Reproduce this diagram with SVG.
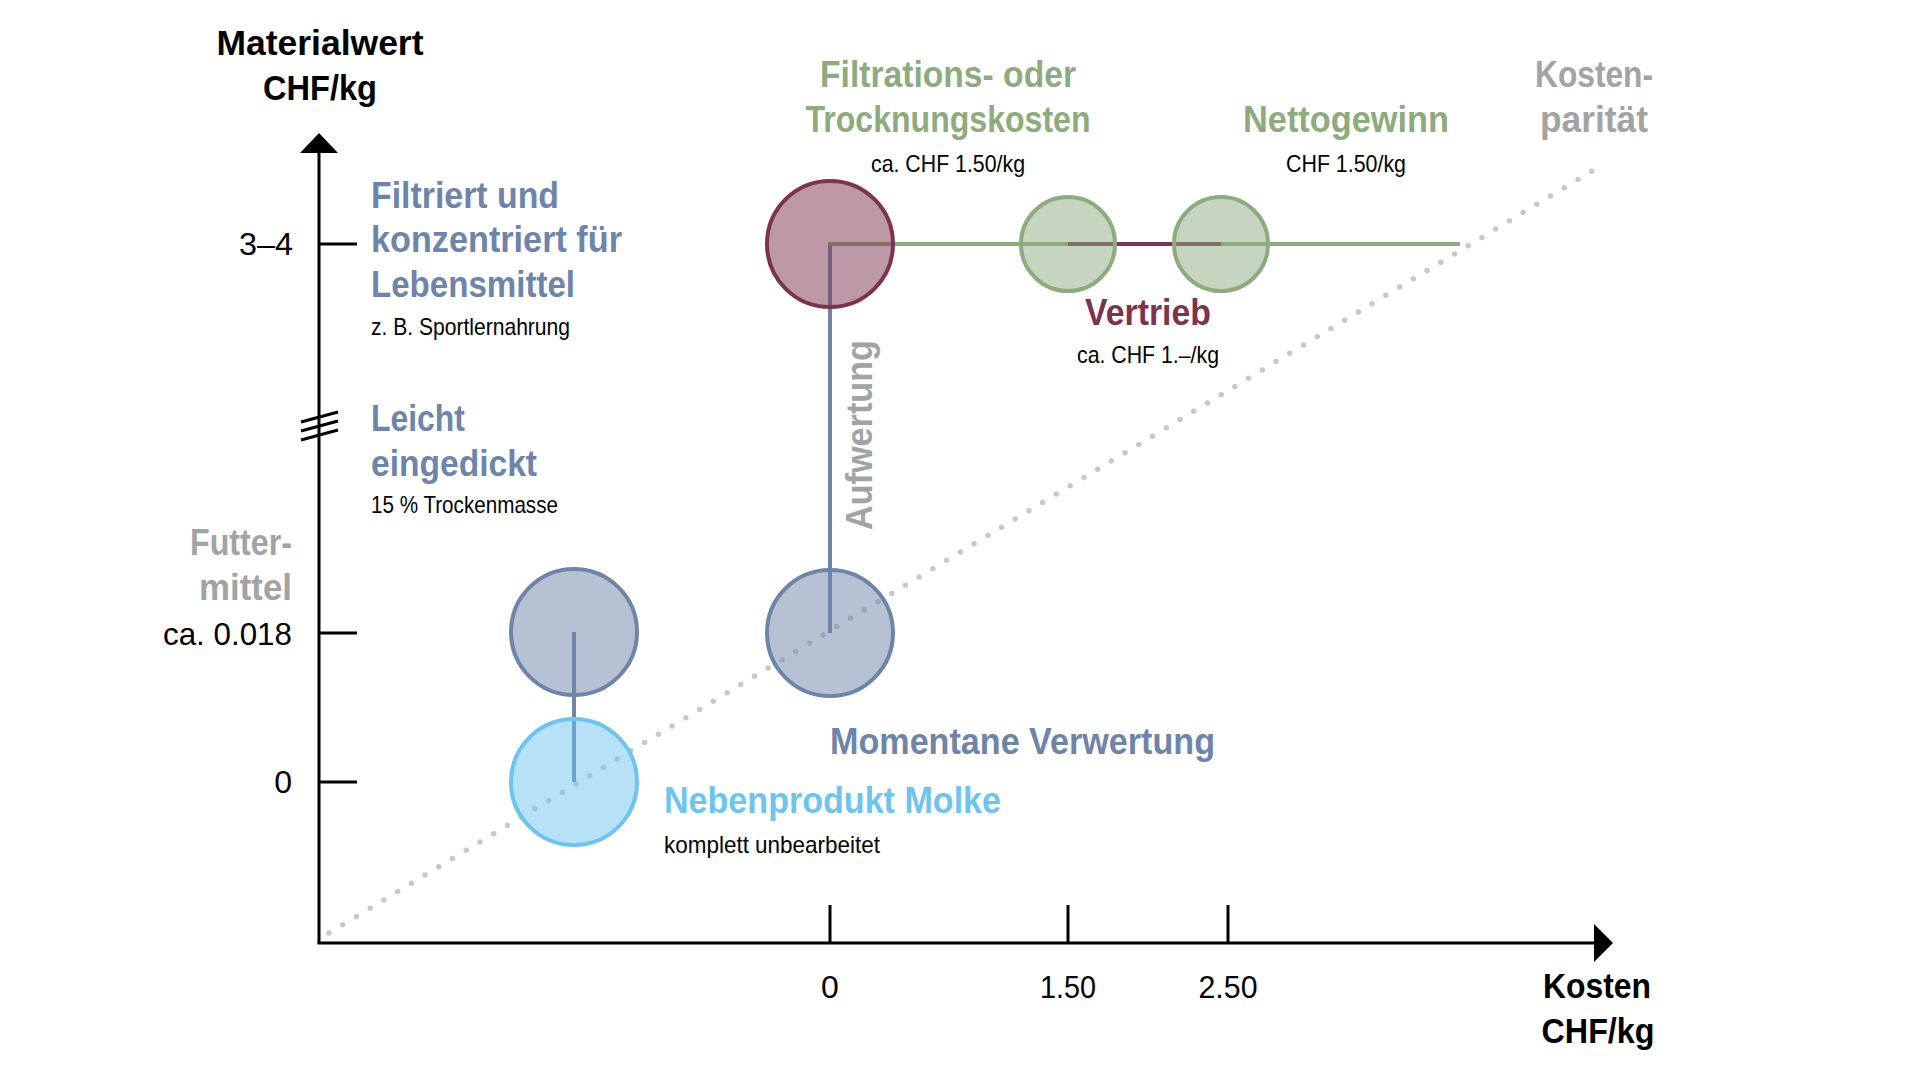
<svg xmlns="http://www.w3.org/2000/svg" width="1920" height="1080" viewBox="0 0 1920 1080">
<style>
text{font-family:"Liberation Sans",Arial,sans-serif;}
.h{font-weight:bold;font-size:36px;}
.ax{font-weight:bold;font-size:35px;fill:#000;}
.num{font-size:32px;fill:#000;}
.sm{font-size:24px;fill:#000;}
.bl{fill:#6f84a9;}
.gr{fill:#8dab7f;}
.rd{fill:#7c3350;}
.gy{fill:#a3a3a3;}
.lb{fill:#6ec4ef;}
.axis{stroke:#000;stroke-width:3;fill:none;}
.c{stroke-width:4;fill-opacity:0.5;}
</style>
<rect width="1920" height="1080" fill="#fff"/>

<g id="axes">
  <line class="axis" x1="319" y1="152" x2="319" y2="943"/>
  <line class="axis" x1="317.5" y1="943" x2="1596" y2="943"/>
  <polygon points="319,133 300,153 338,153" fill="#000"/>
  <polygon points="1613,943 1594,924 1594,962" fill="#000"/>
  <line class="axis" x1="319" y1="244" x2="357" y2="244"/>
  <line class="axis" x1="319" y1="633" x2="357" y2="633"/>
  <line class="axis" x1="319" y1="782" x2="357" y2="782"/>
  <line class="axis" x1="830" y1="905" x2="830" y2="943"/>
  <line class="axis" x1="1068" y1="905" x2="1068" y2="943"/>
  <line class="axis" x1="1228" y1="905" x2="1228" y2="943"/>
  <g stroke="#000" stroke-width="3">
    <line x1="301" y1="422" x2="338" y2="412"/>
    <line x1="301" y1="431" x2="338" y2="421"/>
    <line x1="301" y1="440" x2="338" y2="430"/>
  </g>
  <text class="ax" x="320" y="55" text-anchor="middle" textLength="207" lengthAdjust="spacingAndGlyphs">Materialwert</text>
  <text class="ax" x="320" y="100" text-anchor="middle" textLength="114" lengthAdjust="spacingAndGlyphs">CHF/kg</text>
  <text class="ax" x="1597" y="998" text-anchor="middle" textLength="108" lengthAdjust="spacingAndGlyphs">Kosten</text>
  <text class="ax" x="1598" y="1043" text-anchor="middle" textLength="113" lengthAdjust="spacingAndGlyphs">CHF/kg</text>
  <text class="num" x="293" y="255" text-anchor="end" textLength="54" lengthAdjust="spacingAndGlyphs">3–4</text>
  <text class="num" x="292" y="645" text-anchor="end" textLength="129" lengthAdjust="spacingAndGlyphs">ca. 0.018</text>
  <text class="num" x="292" y="793" text-anchor="end">0</text>
  <text class="num" x="830" y="998" text-anchor="middle">0</text>
  <text class="num" x="1068" y="998" text-anchor="middle" textLength="56" lengthAdjust="spacingAndGlyphs">1.50</text>
  <text class="num" x="1228" y="998" text-anchor="middle" textLength="59" lengthAdjust="spacingAndGlyphs">2.50</text>
</g>

<g id="connectors">
  <line x1="329" y1="933" x2="1592" y2="171" stroke="#c8c8c8" stroke-width="5.5" stroke-linecap="round" stroke-dasharray="0 16.03"/>
  <line x1="574" y1="632" x2="574" y2="782" stroke="#6f84a9" stroke-width="4"/>
  <line x1="830" y1="633" x2="830" y2="242" stroke="#6f84a9" stroke-width="4"/>
  <line x1="828" y1="244" x2="1460" y2="244" stroke="#8dab7f" stroke-width="4"/>
  <line x1="1068" y1="244" x2="1221" y2="244" stroke="#7c3350" stroke-width="4"/>
</g>

<g id="molke">
  <circle class="c" cx="574" cy="782" r="63" fill="#6ec4ef" stroke="#6ec4ef"/>
  <text class="h lb" x="664" y="813" textLength="337" lengthAdjust="spacingAndGlyphs">Nebenprodukt Molke</text>
  <text class="sm" x="664" y="853" textLength="216" lengthAdjust="spacingAndGlyphs">komplett unbearbeitet</text>
</g>

<g id="futtermittel">
  <circle class="c" cx="574" cy="632" r="63" fill="#6f84a9" stroke="#6f84a9"/>
  <text class="h gy" x="292" y="555" text-anchor="end" textLength="102" lengthAdjust="spacingAndGlyphs">Futter-</text>
  <text class="h gy" x="292" y="600" text-anchor="end" textLength="93" lengthAdjust="spacingAndGlyphs">mittel</text>
</g>

<g id="momentane">
  <circle class="c" cx="830" cy="633" r="63" fill="#6f84a9" stroke="#6f84a9"/>
  <text class="h bl" x="830" y="754" textLength="385" lengthAdjust="spacingAndGlyphs">Momentane Verwertung</text>
</g>

<g id="aufwertung">
  <text class="h gy" transform="translate(872,435) rotate(-90)" x="0" y="0" text-anchor="middle" textLength="190" lengthAdjust="spacingAndGlyphs">Aufwertung</text>
</g>

<g id="leicht">
  <text class="h bl" x="371" y="431" textLength="94" lengthAdjust="spacingAndGlyphs">Leicht</text>
  <text class="h bl" x="371" y="476" textLength="166" lengthAdjust="spacingAndGlyphs">eingedickt</text>
  <text class="sm" x="371" y="513" textLength="187" lengthAdjust="spacingAndGlyphs">15 % Trockenmasse</text>
</g>

<g id="filtriert">
  <text class="h bl" x="371" y="208" textLength="188" lengthAdjust="spacingAndGlyphs">Filtriert und</text>
  <text class="h bl" x="371" y="252" textLength="251" lengthAdjust="spacingAndGlyphs">konzentriert für</text>
  <text class="h bl" x="371" y="297" textLength="204" lengthAdjust="spacingAndGlyphs">Lebensmittel</text>
  <text class="sm" x="371" y="335" textLength="199" lengthAdjust="spacingAndGlyphs">z. B. Sportlernahrung</text>
</g>

<g id="filtrationskosten">
  <circle class="c" cx="830" cy="244" r="63" fill="#7c3350" stroke="#7c3350"/>
  <text class="h gr" x="948" y="87" text-anchor="middle" textLength="256" lengthAdjust="spacingAndGlyphs">Filtrations- oder</text>
  <text class="h gr" x="948" y="132" text-anchor="middle" textLength="285" lengthAdjust="spacingAndGlyphs">Trocknungskosten</text>
  <text class="sm" x="948" y="172" text-anchor="middle" textLength="154" lengthAdjust="spacingAndGlyphs">ca. CHF 1.50/kg</text>
</g>

<g id="vertrieb">
  <circle class="c" cx="1068" cy="244" r="47" fill="#8dab7f" stroke="#8dab7f" stroke-width="3.5"/>
  <circle class="c" cx="1221" cy="244" r="47" fill="#8dab7f" stroke="#8dab7f" stroke-width="3.5"/>
  <text class="h rd" x="1148" y="325" text-anchor="middle" textLength="126" lengthAdjust="spacingAndGlyphs">Vertrieb</text>
  <text class="sm" x="1148" y="363" text-anchor="middle" textLength="142" lengthAdjust="spacingAndGlyphs">ca. CHF 1.–/kg</text>
</g>

<g id="nettogewinn">
  <text class="h gr" x="1346" y="132" text-anchor="middle" textLength="206" lengthAdjust="spacingAndGlyphs">Nettogewinn</text>
  <text class="sm" x="1346" y="172" text-anchor="middle" textLength="120" lengthAdjust="spacingAndGlyphs">CHF 1.50/kg</text>
</g>

<g id="kostenparitaet">
  <text class="h gy" x="1594" y="87" text-anchor="middle" textLength="118" lengthAdjust="spacingAndGlyphs">Kosten-</text>
  <text class="h gy" x="1594" y="132" text-anchor="middle" textLength="108" lengthAdjust="spacingAndGlyphs">parität</text>
</g>
</svg>
